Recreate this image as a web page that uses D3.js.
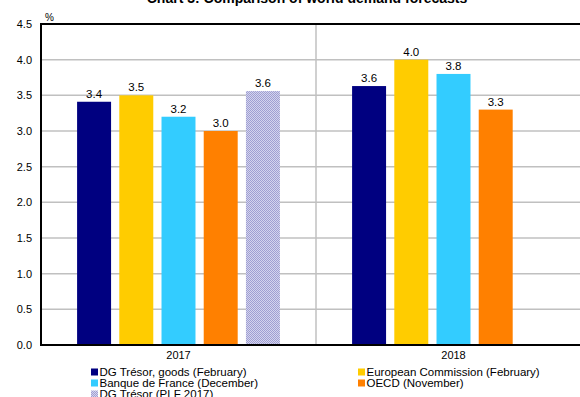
<!DOCTYPE html>
<html><head><meta charset="utf-8">
<script src="https://cdn.jsdelivr.net/npm/d3@7"></script>
<style>body{margin:0;background:#fff}svg{display:block;font-family:"Liberation Sans",Arial,sans-serif}</style>
</head><body><svg id="c" width="580" height="397"></svg>
<script>
const title = "Chart 3: Comparison of world demand forecasts";
const years = ["2017", "2018"];
const seriesNames = ["DG Trésor, goods (February)", "European Commission (February)", "Banque de France (December)", "OECD (November)", "DG Trésor (PLF 2017)"];
const seriesColors = ["#000080", "#FFCC00", "#33CCFF", "#FF8000", "url(#hatch)"];
const values2017 = [3.41, 3.5, 3.2, 3.0, 3.56];
const values2018 = [3.63, 4.0, 3.8, 3.3, null];
const yTicks = [0, 0.5, 1, 1.5, 2, 2.5, 3, 3.5, 4, 4.5];

const svg = d3.select("#c");
const defs = svg.append("defs");
const pat = defs.append("pattern").attr("id","hatch").attr("width",2).attr("height",2).attr("patternUnits","userSpaceOnUse");
pat.append("rect").attr("width",2).attr("height",2).attr("fill","#d4d4ee");
pat.append("rect").attr("width",1).attr("height",1).attr("fill","#9f9fd2");
pat.append("rect").attr("x",1).attr("y",1).attr("width",1).attr("height",1).attr("fill","#9f9fd2");

const L = 41, R = 591, T = 24, B = 345;
const x0 = d3.scaleBand().domain(years).range([L, R]);
const x1 = d3.scaleBand().domain(d3.range(5)).range([0, x0.bandwidth()]).paddingInner(0.195).paddingOuter(0.855);
const y = d3.scaleLinear().domain([0, 4.5]).range([B, T]);

// title
svg.append("text").attr("x", 307).attr("y", 3).attr("text-anchor","middle")
  .attr("font-size", 14).attr("font-weight","bold").text(title);

// gridlines
svg.append("g").selectAll("line").data(yTicks.filter(t => t > 0 && t < 4.5)).join("line")
  .attr("x1", L).attr("x2", 580).attr("y1", d => y(d)).attr("y2", d => y(d))
  .attr("stroke", "#c0c0c0").attr("stroke-width", 1.5);
// separator
svg.append("line").attr("x1", x0("2018")).attr("x2", x0("2018")).attr("y1", T).attr("y2", B)
  .attr("stroke", "#c0c0c0").attr("stroke-width", 1.5);

// bars
const data = [];
years.forEach((yr, i) => {
  const vals = i === 0 ? values2017 : values2018;
  vals.forEach((v, j) => { if (v != null) data.push({yr, j, v}); });
});
svg.append("g").selectAll("rect").data(data).join("rect")
  .attr("x", d => x0(d.yr) + x1(d.j)).attr("width", x1.bandwidth())
  .attr("y", d => y(d.v)).attr("height", d => B - y(d.v))
  .attr("fill", d => seriesColors[d.j]);
svg.append("g").selectAll("text").data(data).join("text")
  .attr("x", d => x0(d.yr) + x1(d.j) + x1.bandwidth()/2).attr("y", d => y(d.v) - 4)
  .attr("text-anchor","middle").attr("font-size", 11.5).attr("fill","#000")
  .text(d => d3.format(".1f")(d.v));

// frame
svg.append("line").attr("x1", L).attr("x2", 580).attr("y1", T).attr("y2", T).attr("stroke","#000").attr("stroke-width",2);
svg.append("line").attr("x1", L).attr("x2", 580).attr("y1", B).attr("y2", B).attr("stroke","#000").attr("stroke-width",2);
svg.append("line").attr("x1", L).attr("x2", L).attr("y1", T-1).attr("y2", B+1).attr("stroke","#000").attr("stroke-width",2);

// y axis labels
const yAxis = d3.axisLeft(y).tickValues(yTicks).tickFormat(d3.format(".1f")).tickSize(0).tickPadding(9);
const ga = svg.append("g").attr("transform", `translate(${L},0)`).call(yAxis);
ga.select(".domain").remove();
ga.selectAll("text").attr("font-size", 11).attr("fill","#000").attr("font-family","Liberation Sans, Arial, sans-serif");
svg.append("text").attr("x", 45).attr("y", 21).attr("font-size", 10).text("%");

// x axis labels
const xAxis = d3.axisBottom(x0).tickSize(0).tickPadding(6);
const gx = svg.append("g").attr("transform", `translate(0,${B})`).call(xAxis);
gx.select(".domain").remove();
gx.selectAll("text").attr("font-size", 11).attr("fill","#000").attr("font-family","Liberation Sans, Arial, sans-serif");

// legend
const legPos = [[91,372],[358,372],[91,383],[358,383],[91,394]];
const lg = svg.append("g").selectAll("g").data(seriesNames).join("g")
  .attr("transform", (d,i) => `translate(${legPos[i][0]},${legPos[i][1]})`);
lg.append("rect").attr("x",0).attr("y",-3.5).attr("width",7).attr("height",7).attr("fill",(d,i)=>seriesColors[i]);
lg.append("text").attr("x",8.5).attr("y",4).attr("font-size",11.5).text(d=>d);
</script></body></html>
